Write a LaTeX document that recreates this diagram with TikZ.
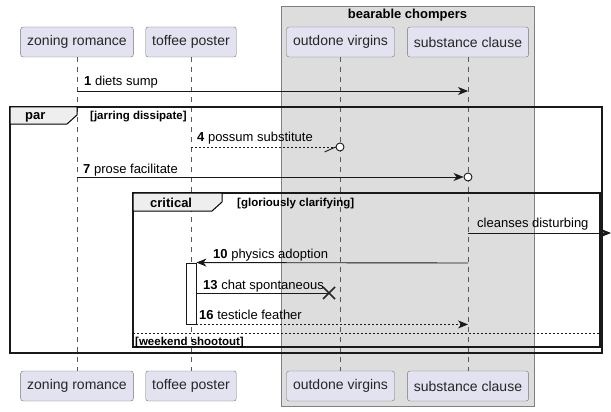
\documentclass[tikz,border=0pt]{standalone}
\usepackage{fontspec}
\setmainfont{Liberation Sans}
\usetikzlibrary{arrows.meta, positioning, calc}
\definecolor{partfill}{RGB}{226,226,240}
\definecolor{groupfill}{RGB}{221,221,221}
\definecolor{tabfill}{RGB}{238,238,238}

\begin{document}
\begin{tikzpicture}[
    x=1pt, y=-1pt,
    participant/.style={rectangle, rounded corners=2.5pt, minimum height=30pt, inner xsep=6.5pt, draw=gray!90!black, fill=partfill, font=\fontsize{14}{16}\selectfont, text=black!85},
    lifeline/.style={draw=gray!70!black, dash pattern=on 5pt off 5pt, line width=0.6pt},
    msg/.style={draw=black!90, line width=0.9pt},
    arrow/.style={msg, -{Stealth[length=10pt, width=8pt, inset=3pt]}},
    reply/.style={arrow, dash pattern=on 2pt off 2pt},
    msglabel/.style={anchor=base west, inner sep=0pt, font=\fontsize{13}{15}\selectfont},
    framename/.style={anchor=base west, inner sep=0pt, font=\bfseries\fontsize{13}{15}\selectfont},
    framelabel/.style={anchor=base west, inner sep=0pt, font=\bfseries\fontsize{11.5}{13}\selectfont},
    frameline/.style={draw=black!90, line width=1.5pt},
    endcircle/.style={circle, draw=black!90, line width=0.9pt, fill=white, minimum size=8pt, inner sep=0pt},
]
    \useasboundingbox (0,0) rectangle (611,412);

    % group box
    \node (box) [draw=gray, fill=groupfill, minimum width=253pt, minimum height=400pt, inner sep=0pt] at (407.5,206) {};
    \node (boxtitle) [framename, anchor=base] at (407.5,19) {bearable chompers};

    % participants
    \node (zrTop) [participant] at (77,42) {zoning romance};
    \node (tpTop) [participant] at (191,42) {toffee poster};
    \node (ovTop) [participant] at (340.5,42) {outdone virgins};
    \node (scTop) [participant] at (468,42) {substance clause};
    \node (zrBot) [participant] at (77,386) {zoning romance};
    \node (tpBot) [participant] at (191,386) {toffee poster};
    \node (ovBot) [participant] at (340.5,386) {outdone virgins};
    \node (scBot) [participant] at (468,386) {substance clause};

    \draw [lifeline] (zrTop) -- (zrBot);
    \draw [lifeline] (tpTop) -- (tpBot);
    \draw [lifeline] (ovTop) -- (ovBot);
    \draw [lifeline] (scTop) -- (scBot);

    % par frame
    \draw [frameline] (10,107) rectangle (602,353);
    \draw [line width=1pt, fill=tabfill] (10,107) -- (77,107) -- (77,115) -- (67,124) -- (10,124) -- cycle;
    \node (parname) [framename] at (25,120) {par};
    \node (parcond) [framelabel] at (90,119) {[jarring dissipate]};

    % message 1
    \coordinate (m1a) at (zrTop |- 0,91);
    \coordinate (m1b) at (scTop |- 0,91);
    \draw [arrow] (m1a) -- (m1b);
    \node (m1) [msglabel] at (84,86) {\textbf{1} diets sump};

    % message 4
    \coordinate (m4a) at (tpTop |- 0,147);
    \node (m4end) [endcircle] at (340,147) {};
    \draw [msg, dash pattern=on 2pt off 2pt] (m4a) -- (m4end);
    \draw [msg] (m4end.west) -- ++(-11,5);
    \node (m4) [msglabel] at (197,142) {\textbf{4} possum substitute};

    % message 7
    \coordinate (m7a) at (zrTop |- 0,177);
    \node (m7end) [endcircle] at (468,177) {};
    \draw [arrow] (m7a) -- (m7end);
    \node (m7) [msglabel] at (83,173) {\textbf{7} prose facilitate};

    % critical frame
    \draw [frameline] (133,193) rectangle (600,347);
    \draw [line width=1pt, fill=tabfill] (133,193) -- (222,193) -- (222,202) -- (212,211) -- (133,211) -- cycle;
    \node (critname) [framename] at (150,207) {critical};
    \node (critcond) [framelabel] at (237,206) {[gloriously clarifying]};

    % lost message
    \coordinate (m8a) at (scTop |- 0,233);
    \coordinate (m8b) at (611,233);
    \draw [arrow] (m8a) -- (m8b);
    \node (m8) [msglabel] at (477,227) {cleanses disturbing};

    % activation
    \node (act) [draw=black!90, fill=white, line width=0.9pt, minimum width=10pt, minimum height=61pt, inner sep=0pt] at (191,293.5) {};

    % message 10
    \coordinate (m10a) at (scTop |- 0,263);
    \coordinate (m10b) at (act.north east);
    \draw [arrow] (m10a) -- (m10b);
    \node (m10) [msglabel] at (213,258) {\textbf{10} physics adoption};

    % message 13
    \coordinate (m13a) at (act.east |- 0,293);
    \coordinate (m13b) at (329,293);
    \draw [msg] (m13a) -- (m13b);
    \draw [line width=1.6pt, black!85] ($(m13b)+(-6,-6)$) -- ($(m13b)+(6,6)$) ($(m13b)+(-6,6)$) -- ($(m13b)+(6,-6)$);
    \node (m13) [msglabel] at (203,289) {\textbf{13} chat spontaneous};

    % message 16
    \coordinate (m16a) at (act.south east);
    \coordinate (m16b) at (scTop |- act.south);
    \draw [reply] (m16a) -- (m16b);
    \node (m16) [msglabel] at (199,319) {\textbf{16} testicle feather};

    % else
    \draw [draw=black!90, line width=0.8pt, dash pattern=on 2pt off 2pt] (133,333) -- (600,333);
    \node (elsecond) [framelabel] at (135,345) {[weekend shootout]};

\end{tikzpicture}
\end{document}
